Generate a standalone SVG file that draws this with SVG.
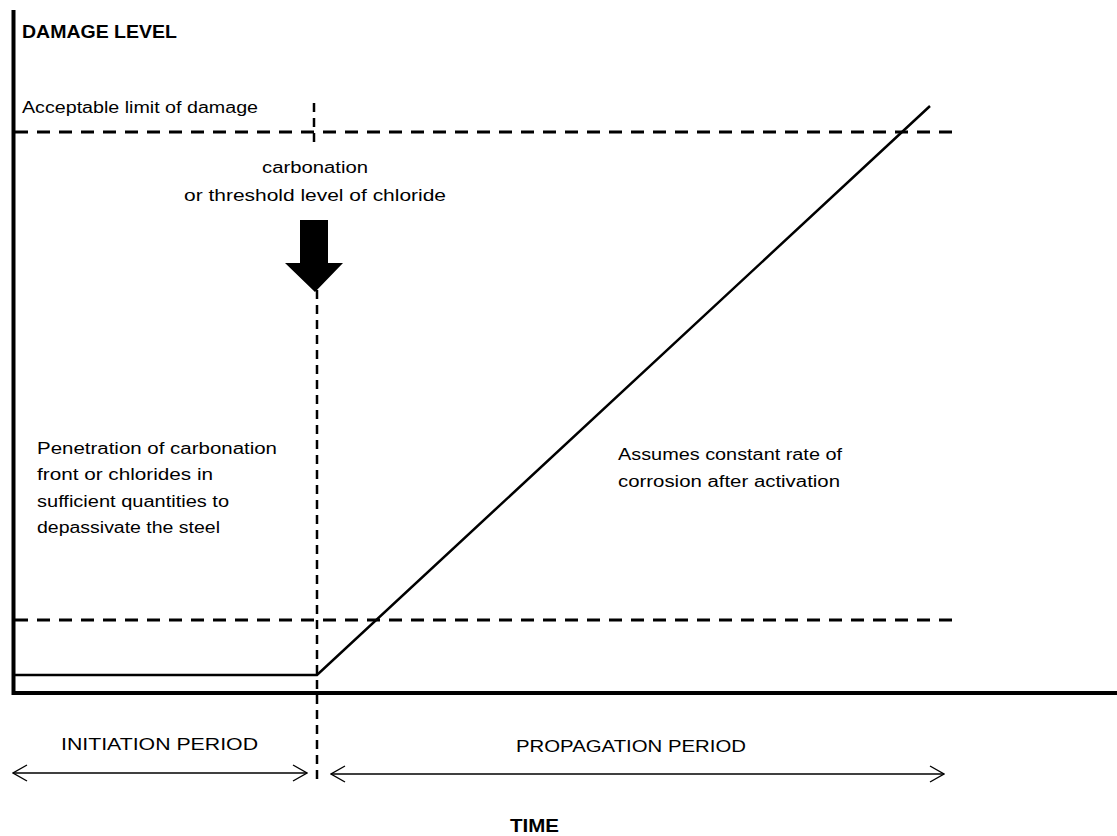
<svg xmlns="http://www.w3.org/2000/svg" width="1117" height="836" viewBox="0 0 1117 836">
<style>
.t{font-family:"Liberation Sans",Arial,sans-serif;font-size:16px;fill:#000}
.b{font-family:"Liberation Sans",Arial,sans-serif;font-size:18px;font-weight:bold;fill:#000}
.axis{stroke:#000;stroke-width:4;fill:none}
.solid{stroke:#000;stroke-width:2.5;fill:none}
.dash{stroke:#000;stroke-width:3;stroke-dasharray:13 9;fill:none}
.vdash{stroke:#000;stroke-width:2.5;stroke-dasharray:9 6;fill:none}
.dim{stroke:#000;stroke-width:1.4;fill:none}
</style>
<defs>
<marker id="open" viewBox="0 0 16 18" refX="15" refY="9" markerWidth="16" markerHeight="18" markerUnits="userSpaceOnUse" orient="auto-start-reverse">
<path d="M1,1 L15,9 L1,17" fill="none" stroke="#000" stroke-width="1.4"/>
</marker>
</defs>
<rect width="1117" height="836" fill="#fff"/>
<g id="axes">
<line class="axis" x1="13.5" y1="10" x2="13.5" y2="695"/>
<line class="axis" x1="12" y1="693" x2="1117" y2="693"/>
</g>
<g id="labels-axes">
<text class="b" x="22" y="38" textLength="155" lengthAdjust="spacingAndGlyphs">DAMAGE LEVEL</text>
<text class="b" x="510" y="832" font-size="20" textLength="49" lengthAdjust="spacingAndGlyphs">TIME</text>
</g>
<g id="limits">
<line class="dash" x1="15" y1="132" x2="955" y2="132"/>
<line class="dash" x1="15" y1="620" x2="955" y2="620"/>
<text class="t" x="22" y="113" textLength="236" lengthAdjust="spacingAndGlyphs">Acceptable limit of damage</text>
</g>
<g id="connectors">
<line class="vdash" x1="314" y1="103" x2="314" y2="143"/>
<line class="vdash" x1="317" y1="290" x2="317" y2="781"/>
<polyline class="solid" points="15,675 317,675 930,106"/>
<line class="dim" x1="13" y1="773" x2="307" y2="773" marker-start="url(#open)" marker-end="url(#open)"/>
<line class="dim" x1="331" y1="774" x2="944" y2="774" marker-start="url(#open)" marker-end="url(#open)"/>
</g>
<g id="activation">
<polygon points="300,220 328,220 328,263 343,263 315,292 285,263 300,263" fill="#000"/>
<text class="t" x="315" y="173" text-anchor="middle" textLength="106" lengthAdjust="spacingAndGlyphs">carbonation</text>
<text class="t" x="315" y="201" text-anchor="middle" textLength="262" lengthAdjust="spacingAndGlyphs">or threshold level of chloride</text>
</g>
<g id="initiation-note">
<text class="t" x="37" y="454" textLength="240" lengthAdjust="spacingAndGlyphs">Penetration of carbonation</text>
<text class="t" x="37" y="480" textLength="176" lengthAdjust="spacingAndGlyphs">front or chlorides in</text>
<text class="t" x="37" y="507" textLength="192" lengthAdjust="spacingAndGlyphs">sufficient quantities to</text>
<text class="t" x="37" y="533" textLength="183" lengthAdjust="spacingAndGlyphs">depassivate the steel</text>
</g>
<g id="propagation-note">
<text class="t" x="618" y="460" textLength="224" lengthAdjust="spacingAndGlyphs">Assumes constant rate of</text>
<text class="t" x="618" y="487" textLength="222" lengthAdjust="spacingAndGlyphs">corrosion after activation</text>
</g>
<g id="periods">
<text class="t" x="61" y="750" textLength="197" lengthAdjust="spacingAndGlyphs">INITIATION PERIOD</text>
<text class="t" x="516" y="752" textLength="230" lengthAdjust="spacingAndGlyphs">PROPAGATION PERIOD</text>
</g>
</svg>
